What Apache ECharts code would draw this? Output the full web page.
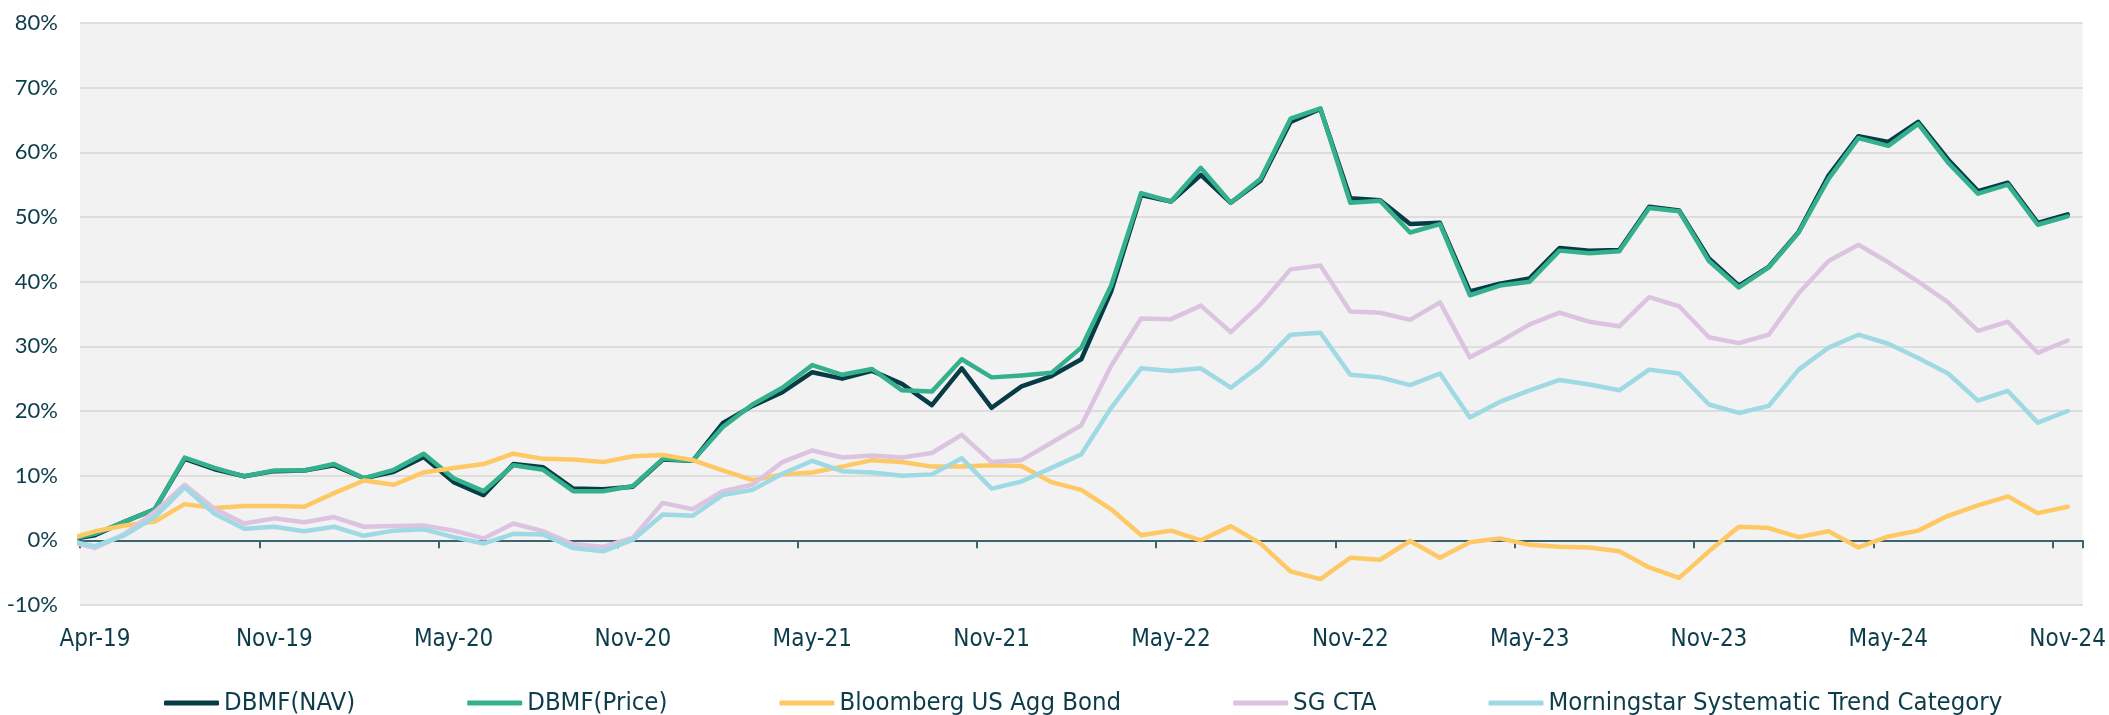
<!DOCTYPE html>
<html>
<head>
<meta charset="utf-8">
<title>DBMF vs benchmarks</title>
<script src="https://cdn.jsdelivr.net/npm/echarts@6/dist/echarts.min.js"></script>
<style>
  html, body { margin: 0; padding: 0; background: #ffffff; }
  #main { width: 2109px; height: 715px; }
</style>
</head>
<body>
<div id="main"></div>
<script>
  // month-end dates, Apr-19 is the starting point (0%)
  var months = [
    'Apr-19', 'May-19', 'Jun-19', 'Jul-19', 'Aug-19', 'Sep-19', 'Oct-19', 'Nov-19', 'Dec-19',
    'Jan-20', 'Feb-20', 'Mar-20', 'Apr-20', 'May-20', 'Jun-20', 'Jul-20', 'Aug-20', 'Sep-20', 'Oct-20', 'Nov-20', 'Dec-20',
    'Jan-21', 'Feb-21', 'Mar-21', 'Apr-21', 'May-21', 'Jun-21', 'Jul-21', 'Aug-21', 'Sep-21', 'Oct-21', 'Nov-21', 'Dec-21',
    'Jan-22', 'Feb-22', 'Mar-22', 'Apr-22', 'May-22', 'Jun-22', 'Jul-22', 'Aug-22', 'Sep-22', 'Oct-22', 'Nov-22', 'Dec-22',
    'Jan-23', 'Feb-23', 'Mar-23', 'Apr-23', 'May-23', 'Jun-23', 'Jul-23', 'Aug-23', 'Sep-23', 'Oct-23', 'Nov-23', 'Dec-23',
    'Jan-24', 'Feb-24', 'Mar-24', 'Apr-24', 'May-24', 'Jun-24', 'Jul-24', 'Aug-24', 'Sep-24', 'Oct-24', 'Nov-24'
  ];

  // labels shown under the axis, one every 6 months
  var tickLabels = ['Apr-19', 'Nov-19', 'May-20', 'Nov-20', 'May-21', 'Nov-21',
                    'May-22', 'Nov-22', 'May-23', 'Nov-23', 'May-24', 'Nov-24'];

  var seriesNames = ['DBMF(NAV)', 'DBMF(Price)', 'Bloomberg US Agg Bond', 'SG CTA',
                     'Morningstar Systematic Trend Category'];

  // cumulative return, %
  var dbmfNav = [0, 0.8, 2.9, 4.8, 12.6, 11.0, 9.9, 10.7, 10.8, 11.6,
    9.6, 10.6, 12.9, 9.0, 7.0, 11.8, 11.3, 8.0, 7.9, 8.3,
    12.5, 12.3, 18.1, 20.8, 22.9, 26.0, 25.0, 26.2, 24.2, 20.9,
    26.6, 20.5, 23.8, 25.4, 28.0, 38.5, 53.4, 52.4, 56.5, 52.2,
    55.6, 64.7, 66.7, 52.9, 52.6, 48.9, 49.1, 38.5, 39.7, 40.5,
    45.2, 44.8, 44.9, 51.6, 51.0, 43.6, 39.4, 42.3, 47.7, 56.4,
    62.5, 61.6, 64.7, 58.9, 54.0, 55.3, 49.1, 50.4];

  var dbmfPrice = [0, 1.0, 2.9, 4.8, 12.8, 11.2, 9.9, 10.8, 10.8, 11.8,
    9.6, 10.9, 13.4, 9.6, 7.6, 11.6, 10.9, 7.6, 7.6, 8.4,
    12.6, 12.3, 17.5, 21.0, 23.6, 27.1, 25.6, 26.5, 23.2, 23.0,
    28.0, 25.2, 25.5, 25.9, 29.8, 39.4, 53.7, 52.4, 57.6, 52.2,
    55.9, 65.2, 66.8, 52.2, 52.5, 47.6, 48.9, 37.9, 39.4, 40.0,
    44.8, 44.4, 44.7, 51.4, 50.9, 43.2, 39.1, 42.2, 47.6, 55.9,
    62.2, 61.0, 64.4, 58.4, 53.6, 55.0, 48.8, 50.1];

  var aggBond = [0, 1.4, 2.3, 2.9, 5.6, 5.0, 5.3, 5.3, 5.2, 7.3,
    9.25, 8.6, 10.5, 11.2, 11.8, 13.4, 12.6, 12.5, 12.1, 13.0,
    13.2, 12.4, 10.8, 9.3, 10.2, 10.5, 11.4, 12.4, 12.1, 11.4,
    11.4, 11.6, 11.5, 9.0, 7.8, 4.8, 0.8, 1.5, 0.0, 2.2,
    -0.5, -4.8, -6.0, -2.7, -3.0, -0.1, -2.7, -0.3, 0.3, -0.7,
    -1.0, -1.1, -1.7, -4.2, -5.8, -1.7, 2.1, 1.9, 0.5, 1.4,
    -1.1, 0.6, 1.5, 3.8, 5.4, 6.8, 4.2, 5.2];

  var sgCta = [0, -1.2, 1.0, 4.4, 8.6, 4.9, 2.6, 3.4, 2.8, 3.6,
    2.1, 2.2, 2.3, 1.5, 0.3, 2.6, 1.4, -0.6, -1.0, 0.4,
    5.8, 4.8, 7.6, 8.6, 12.1, 13.9, 12.8, 13.1, 12.8, 13.5,
    16.3, 12.1, 12.4, 15.1, 17.8, 27.0, 34.3, 34.2, 36.3, 32.2,
    36.5, 41.9, 42.5, 35.4, 35.2, 34.1, 36.8, 28.3, 30.7, 33.4,
    35.2, 33.8, 33.1, 37.6, 36.2, 31.4, 30.5, 31.8, 38.2, 43.2,
    45.7, 43.0, 40.0, 36.8, 32.4, 33.8, 29.0, 30.9];

  var msTrend = [0, -0.9, 0.8, 3.6, 8.2, 4.1, 1.8, 2.1, 1.4, 2.1,
    0.7, 1.5, 1.7, 0.5, -0.5, 1.0, 0.9, -1.2, -1.7, 0.1,
    4.0, 3.8, 7.0, 7.8, 10.3, 12.3, 10.7, 10.5, 10.0, 10.2,
    12.7, 8.0, 9.1, 11.2, 13.3, 20.5, 26.6, 26.2, 26.6, 23.6,
    27.1, 31.8, 32.1, 25.6, 25.2, 24.0, 25.8, 19.0, 21.4, 23.2,
    24.8, 24.1, 23.2, 26.4, 25.8, 21.0, 19.7, 20.8, 26.4, 29.8,
    31.8, 30.4, 28.2, 25.8, 21.6, 23.1, 18.2, 20.0];

  var colors = ['#073b46', '#35b08d', '#fec965', '#dcc4e1', '#9ed9e4'];
  var textColor = '#0d3c4a';
  var font = 'Lato';
  var narrowFont = '"DejaVu Sans Condensed", "Liberation Sans Narrow", Lato, sans-serif';

  // the starting point sits half a month left of the plot edge and is clipped
  function toPoints(values) {
    return values.map(function (v, i) { return [i - 1, v]; });
  }

  var allValues = [dbmfNav, dbmfPrice, aggBond, sgCta, msTrend];
  var plotMonths = months.slice(1);

  var myChart = echarts.init(document.getElementById('main'));

  var option = {
    animation: false,
    backgroundColor: '#ffffff',
    color: colors,
    grid: {
      left: 80,
      right: 24,
      top: 23,
      bottom: 110,
      show: true,
      backgroundColor: '#f2f2f2',
      borderWidth: 0
    },
    legend: {
      data: seriesNames,
      left: 159,
      top: 685,
      icon: 'roundRect',
      itemWidth: 55,
      itemHeight: 5,
      itemGap: 112,
      textStyle: { fontFamily: narrowFont, fontSize: 25.5, color: textColor }
    },
    xAxis: [
      {
        // labels at the bottom of the plot
        type: 'category',
        data: plotMonths,
        position: 'bottom',
        axisLine: { show: false, onZero: false },
        axisTick: { show: false },
        axisLabel: {
          interval: 5,
          margin: 23,
          fontFamily: narrowFont,
          fontSize: 24,
          color: textColor,
          formatter: function (value, index) {
            return tickLabels[index / 6] || '';
          }
        },
        splitLine: { show: false }
      },
      {
        // zero line with its ticks
        type: 'category',
        data: plotMonths,
        position: 'bottom',
        axisLine: { show: true, onZero: true, lineStyle: { color: '#3a6472', width: 2 } },
        axisTick: { show: true, interval: 5, length: 8, lineStyle: { color: '#3a6472', width: 2 } },
        axisLabel: { show: false },
        splitLine: { show: false }
      },
      {
        // numeric month index used by the lines
        type: 'value',
        show: false,
        min: -0.5,
        max: plotMonths.length - 0.5,
        axisLine: { onZero: false },
        splitLine: { show: false }
      }
    ],
    yAxis: {
      type: 'value',
      min: -10,
      max: 80,
      interval: 10,
      axisLine: { show: false, onZero: false },
      axisTick: { show: false },
      axisLabel: {
        margin: 22,
        fontFamily: font,
        fontSize: 22,
        color: textColor,
        formatter: '{value}%'
      },
      splitLine: { lineStyle: { color: '#d6d6d6', width: 1.5 } }
    },
    series: seriesNames.map(function (name, s) {
      return {
        name: name,
        type: 'line',
        xAxisIndex: 2,
        data: toPoints(allValues[s]),
        symbol: 'none',
        clip: true,
        lineStyle: { width: 4.5, color: colors[s], cap: 'round', join: 'round' }
      };
    })
  };

  myChart.setOption(option);
</script>
</body>
</html>
